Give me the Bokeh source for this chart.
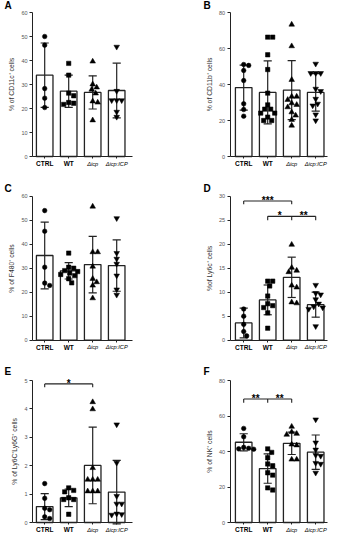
import numpy as np
from bokeh.plotting import figure
from bokeh.models import FixedTicker, Range1d
from bokeh.layouts import column, row
from bokeh.embed import file_html
from bokeh.resources import INLINE
from bokeh.core.properties import value

GROUPS = ["CTRL", "WT", "Δicp", "Δicp:ICP"]
GROUP_STYLE = ["bold", "bold", "italic", "italic"]
GROUP_SIZE = ["6.5px", "6.5px", "5.7px", "5.7px"]
MARKERS = ["circle", "square", "triangle", "inverted_triangle"]

# ---------- Panel A : % of CD11c+ cells ----------
A_CTRL = [50.0, 46.4, 28.3, 24.3, 20.4]
A_WT = [38.8, 33.9, 26.4, 25.3, 22.5, 22.2, 21.7]
A_DICP = [39.6, 30.1, 28.8, 27.9, 26.3, 23.0, 22.5, 15.1]
A_COMP = [45.7, 27.3, 23.4, 23.4, 23.4, 18.6, 16.5]
A_MEAN = [33.9, 27.2, 26.7, 27.5]
A_SD = [13.4, 6.7, 6.9, 11.4]

# ---------- Panel B : % of CD11b+ cells ----------
B_CTRL = [51.1, 50.6, 47.8, 42.2, 29.3, 26.1, 22.4]
B_WT = [66.3, 66.3, 56.5, 48.3, 35.2, 28.7, 26.3, 26.3, 24.1, 24.1, 21.9, 20.0, 20.0]
B_DICP = [73.3, 61.3, 42.6, 33.3, 33.3, 31.5, 29.6, 28.7, 27.4, 24.6, 22.8, 20.4, 17.2]
B_COMP = [51.5, 46.3, 46.3, 46.3, 37.6, 36.3, 32.0, 29.3, 28.3, 23.3, 20.0]
B_MEAN = [38.3, 35.6, 36.9, 35.6]
B_SD = [12.5, 17.5, 16.4, 10.4]

# ---------- Panel C : % of F480+ cells ----------
C_CTRL = [54.0, 45.4, 30.4, 23.8, 22.8]
C_WT = [36.3, 30.4, 30.0, 29.0, 28.6, 28.0, 27.4, 26.9, 25.6, 23.9]
C_DICP = [55.7, 36.7, 36.7, 30.7, 25.6, 24.2, 22.8, 17.5]
C_COMP = [50.8, 36.3, 33.9, 31.8, 26.9, 21.1, 18.9]
C_MEAN = [35.3, 28.9, 31.5, 31.1]
C_SD = [13.9, 3.4, 11.8, 10.7]

# ---------- Panel D : % of Ly6c+ cells ----------
D_CTRL = [6.5, 5.0, 3.3, 1.8, 0.9]
D_WT = [12.3, 12.3, 11.3, 9.2, 7.6, 7.2, 6.8, 5.7, 2.5]
D_DICP = [19.9, 15.1, 14.5, 14.2, 11.4, 11.0, 7.9, 7.7]
D_COMP = [11.5, 9.8, 9.5, 8.5, 7.6, 7.0, 6.8, 6.5, 2.9]
D_MEAN = [3.6, 8.4, 13.1, 7.4]
D_SD = [3.1, 3.1, 4.2, 2.6]

# ---------- Panel E : % of Ly6C+Ly6G+ cells ----------
E_CTRL = [1.37, 0.85, 0.50, 0.45, 0.20, 0.14]
E_WT = [1.22, 1.13, 1.08, 0.87, 0.81, 0.81, 0.29]
E_DICP = [4.24, 3.99, 1.92, 1.51, 1.51, 1.51, 1.10, 1.10, 1.10]
E_COMP = [3.45, 2.10, 0.93, 0.66, 0.66, 0.31, 0.29, 0.27]
E_MEAN = [0.56, 0.87, 2.01, 1.07]
E_SD = [0.46, 0.31, 1.35, 1.12]

# ---------- Panel F : % of NK+ cells ----------
F_CTRL = [53.0, 48.3, 42.3, 41.8, 41.5, 41.3]
F_WT = [41.5, 39.5, 36.5, 33.0, 32.0, 28.0, 26.7, 19.5, 18.3]
F_DICP = [54.0, 51.0, 50.0, 49.5, 44.0, 43.5, 35.5, 35.5]
F_COMP = [58.0, 45.0, 41.0, 38.0, 37.5, 33.5, 33.0, 28.0]
F_MEAN = [45.2, 30.4, 44.6, 39.6]
F_SD = [4.8, 8.3, 6.3, 9.7]

# significance brackets: (group indices, line level, drop, [(x, stars)])
D_BRACKETS = [([0, 2], 29.0, 0.7, [(1.0, "***")]),
              ([1, 2, 3], 25.8, 0.8, [(1.5, "*"), (2.5, "**")])]
E_BRACKETS = [([0, 2], 4.88, 0.12, [(1.0, "*")])]
F_BRACKETS = [([0, 1, 2], 69.6, 2.2, [(0.5, "**"), (1.5, "**")])]

PANELS = [
    ("A", "% of CD11c⁺ cells", 60, 10, [A_CTRL, A_WT, A_DICP, A_COMP], A_MEAN, A_SD, []),
    ("B", "% of CD11b⁺ cells", 80, 20, [B_CTRL, B_WT, B_DICP, B_COMP], B_MEAN, B_SD, []),
    ("C", "% of F480⁺ cells", 60, 10, [C_CTRL, C_WT, C_DICP, C_COMP], C_MEAN, C_SD, []),
    ("D", "%of Ly6c⁺ cells", 30, 5, [D_CTRL, D_WT, D_DICP, D_COMP], D_MEAN, D_SD, D_BRACKETS),
    ("E", "% of Ly6C⁺Ly6G⁺ cells", 5, 1, [E_CTRL, E_WT, E_DICP, E_COMP], E_MEAN, E_SD, E_BRACKETS),
    ("F", "% of NK⁺ cells", 80, 20, [F_CTRL, F_WT, F_DICP, F_COMP], F_MEAN, F_SD, F_BRACKETS),
]

FONT = "Liberation Sans"
INK = "#222222"
PXU_X = 24.0            # pixels per category step
FIG_W = 164
# per column: px of first category centre from figure left, y-axis px, x-axis end px, letter px
COLS = [dict(c0=44.2, yaxis=32.0, xend=132.0, letter=4.0),
        dict(c0=79.2, yaxis=65.5, xend=163.0, letter=39.0)]
# per row: figure height, px of y=0 from figure top, px from 0 to top tick, letter px above y=0
ROWS = [dict(h=175, zero=156.0, span=144.0, letter=151.0),
        dict(h=183, zero=164.7, span=144.0, letter=152.0),
        dict(h=176, zero=164.0, span=142.0, letter=151.0)]
CAT_LABEL_GAP = 7.0     # px below the x axis


def swarm(vals, px_y, d=5.0, step=1.0):
    placed, offs = [], []
    for v in vals:
        y = v * px_y
        k = 0
        while True:
            cands = [0.0] if k == 0 else [k * step, -k * step]
            ok = None
            for c in cands:
                if all((c - px) ** 2 + (y - py) ** 2 >= d * d for px, py in placed):
                    ok = c
                    break
            if ok is not None:
                placed.append((ok, y))
                offs.append(ok / PXU_X)
                break
            k += 1
    return offs


def make_panel(idx, spec):
    letter, ylabel, ymax, ystep, pts, means, sds, brackets = spec
    c = COLS[idx % 2]
    r = ROWS[idx // 2]
    ppu = r["span"] / ymax
    x0 = -c["c0"] / PXU_X
    x1 = x0 + FIG_W / PXU_X
    y0 = -(r["h"] - r["zero"]) / ppu
    y1 = r["zero"] / ppu
    yax_x = x0 + c["yaxis"] / PXU_X
    xax_end = x0 + c["xend"] / PXU_X

    p = figure(width=FIG_W, height=r["h"], x_range=Range1d(x0, x1), y_range=Range1d(y0, y1),
               output_backend="svg", toolbar_location=None,
               min_border_left=0, min_border_right=0, min_border_top=0, min_border_bottom=0)
    p.outline_line_color = None
    p.grid.visible = False
    p.background_fill_color = "white"

    xs = list(range(len(GROUPS)))
    p.vbar(x=xs, top=means, width=0.69, bottom=0, fill_color="white",
           line_color=INK, line_width=1.3)
    lo = [m - s for m, s in zip(means, sds)]
    hi = [m + s for m, s in zip(means, sds)]
    cap = 0.17
    p.segment(x0=xs, y0=lo, x1=xs, y1=hi, line_color=INK, line_width=1.2)
    p.segment(x0=[x - cap for x in xs], y0=hi, x1=[x + cap for x in xs], y1=hi,
              line_color=INK, line_width=1.2)
    p.segment(x0=[x - cap for x in xs], y0=lo, x1=[x + cap for x in xs], y1=lo,
              line_color=INK, line_width=1.2)

    for gi, vals in enumerate(pts):
        offs = swarm(vals, ppu)
        size = {"circle": 4.6, "square": 4.4, "triangle": 5.6, "inverted_triangle": 5.6}[MARKERS[gi]]
        p.scatter(x=[gi + o for o in offs], y=vals, marker=MARKERS[gi], size=size,
                  fill_color="black", line_color="black", line_width=0.5)

    for gids, lvl, drop, texts in brackets:
        p.segment(x0=[gids[0]], y0=[lvl], x1=[gids[-1]], y1=[lvl], line_color=INK, line_width=1.1)
        p.segment(x0=gids, y0=[lvl] * len(gids), x1=gids, y1=[lvl - drop] * len(gids),
                  line_color=INK, line_width=1.1)
        p.text(x=[t[0] for t in texts], y=[lvl + 0.5 / ppu] * len(texts),
               text=[t[1] for t in texts], text_font=value(FONT), text_font_size="10px",
               text_font_style="bold", text_color="black", text_align="center",
               text_baseline="alphabetic")

    # y axis, fixed at the left edge of the data area
    ya = p.yaxis[0]
    ya.fixed_location = yax_x
    ya.ticker = FixedTicker(ticks=list(np.arange(0, ymax + ystep / 2, ystep)))
    ya.bounds = (0, ymax)
    ya.minor_tick_line_color = None
    ya.major_tick_in = 0
    ya.major_tick_out = 3
    ya.axis_line_color = INK
    ya.major_tick_line_color = INK
    ya.major_label_text_font = FONT
    ya.major_label_text_font_size = "5.5px"
    ya.major_label_text_color = "#555555"
    ya.major_label_standoff = 2
    ya.axis_label = ylabel
    ya.axis_label_text_font = FONT
    ya.axis_label_text_font_size = "6.8px"
    ya.axis_label_text_font_style = "normal"
    ya.axis_label_text_color = "#333333"
    ya.axis_label_standoff = 3

    # x axis fixed at y = 0
    xa = p.xaxis[0]
    xa.fixed_location = 0
    xa.bounds = (yax_x, xax_end)
    xa.ticker = FixedTicker(ticks=xs)
    xa.major_label_overrides = {i: "" for i in xs}
    xa.major_label_text_font_size = "1px"
    xa.major_label_standoff = 0
    xa.minor_tick_line_color = None
    xa.major_tick_in = 0
    xa.major_tick_out = 2
    xa.axis_line_color = INK
    xa.major_tick_line_color = INK

    # category labels
    for gi, g in enumerate(GROUPS):
        p.text(x=[gi], y=[-CAT_LABEL_GAP / ppu], text=[g], text_font=value(FONT),
               text_font_size=GROUP_SIZE[gi], text_font_style=GROUP_STYLE[gi],
               text_color="black", text_align="center", text_baseline="middle")
    # panel letter
    p.text(x=[x0 + c["letter"] / PXU_X], y=[r["letter"] / ppu], text=[letter],
           text_font=value(FONT), text_font_size="10px", text_font_style="bold",
           text_color="black", text_align="left", text_baseline="middle")
    return p


figs = [make_panel(i, s) for i, s in enumerate(PANELS)]
layout = column(row(figs[0], figs[1]), row(figs[2], figs[3]), row(figs[4], figs[5]))
open("out.html", "w").write(file_html(layout, INLINE))
